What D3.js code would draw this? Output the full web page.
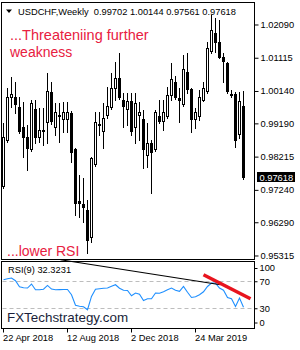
<!DOCTYPE html>
<html>
<head>
<meta charset="utf-8">
<script src="https://cdn.jsdelivr.net/npm/d3@7"></script>
<style>
body { margin: 0; background: #fff; }
svg { display: block; font-family: "Liberation Sans", Arial, sans-serif; }
</style>
</head>
<body>
<div id="chart"></div>
<script>

// weekly candles USDCHF
var opens = [0.97339,0.98688,0.99978,0.99949,0.99656,0.99069,0.98805,0.98424,0.99597,0.98776,
  0.99010,0.99216,1.00096,0.99098,0.99392,0.99304,0.99304,0.99480,0.98424,0.96899,
  0.96840,0.96664,0.95872,0.97984,0.99170,0.98952,0.99450,0.99656,1.00242,1.00535,
  0.99890,0.99626,0.99832,0.99069,0.99450,0.99304,0.98277,0.98629,0.98424,0.99392,
  0.99245,0.99392,1.00008,1.00418,0.99920,0.99744,1.00711,1.00184,0.99304,0.99392,
  0.99890,1.00125,1.01298,1.01855,1.01562,1.01122,1.00975,1.00066,1.00037,0.98864,
  0.99702];
var highs = [0.99216,1.00242,1.00565,1.00418,0.99978,0.99832,0.99157,0.99890,0.99890,0.99656,
  0.99656,1.00682,1.00418,0.99802,0.99802,0.99832,0.99832,0.99560,0.98482,0.97690,
  0.97602,0.96957,0.98210,0.99538,0.99538,0.99802,1.00272,1.00682,1.01005,1.01269,
  1.00096,1.00096,1.00096,1.00096,0.99832,0.99597,0.99216,0.98717,0.99597,0.99890,
  0.99890,1.00272,1.00975,1.00594,1.00242,1.01210,1.01269,1.00242,0.99656,1.00184,
  1.00418,1.01591,1.02383,1.02295,1.02237,1.01269,1.01005,1.00184,1.00125,1.00125,
  1.00144];
var lows = [0.97310,0.98660,0.99685,0.99509,0.98922,0.98218,0.97837,0.98400,0.98629,0.98658,
  0.98570,0.98629,0.99190,0.98864,0.98658,0.98952,0.98952,0.98072,0.96517,0.96459,
  0.96312,0.95403,0.95726,0.97960,0.98864,0.98482,0.99362,0.99630,0.99890,0.99920,
  0.99098,0.99157,0.98864,0.98629,0.98717,0.97896,0.97925,0.97162,0.98400,0.99216,
  0.99010,0.99370,0.99890,0.99930,0.99245,0.99720,1.00096,0.98952,0.99069,0.99304,
  0.99870,1.00100,1.01280,1.01298,1.01122,1.00418,1.00096,0.99978,0.98512,0.98776,
  0.97561];
var closes = [0.98776,0.99978,1.00066,0.99744,0.98952,0.98776,0.98482,0.99802,0.98776,0.99010,
  0.98952,1.00125,0.99245,0.99509,0.99450,0.99509,0.99538,0.98336,0.96869,0.96869,
  0.96723,0.95784,0.98189,0.99216,0.99150,0.99333,0.99685,1.00242,1.00535,0.99949,
  0.99685,0.99832,0.98952,0.99802,0.99509,0.98424,0.98629,0.98365,0.99538,0.99245,
  0.99538,1.00008,1.00506,0.99949,0.99861,1.00799,1.00184,0.99304,0.99509,0.99978,
  1.00242,1.01415,1.01943,1.01562,1.01151,1.01005,1.00125,1.00008,0.98717,0.99832,
  0.97618];

// RSI(9)
var rsi = [73.0,74.4,75.5,71.5,62.6,61.1,60.7,66.6,58.1,58.1,
  58.9,64.5,59.2,58.1,58.3,58.5,58.5,50.7,35.2,33.7,
  33.0,28.5,48.2,58.9,59.6,60.4,60.7,63.3,65.6,60.4,
  57.4,57.1,49.3,53.3,51.5,42.3,44.8,44.8,53.3,53.0,
  55.2,58.1,60.7,57.4,55.9,63.0,54.4,46.7,47.8,50.7,
  55.2,63.0,68.1,68.1,60.7,57.4,46.7,44.8,33.4,45.9,
  32.3231];

// trendlines on the RSI pane: [bar index, rsi value]
var rsiTrend = [[14.25, 102.6], [54.25, 65.6]];
var redTrend = [[50, 80.4], [61.75, 44.8]];

var priceTicks = [1.02090, 1.01115, 1.00140, 0.99190, 0.98215, 0.97240, 0.96290, 0.95315];
var rsiTicks = [0, 30, 70, 100];
var dateTicks = [new Date(2018, 3, 22), new Date(2018, 7, 12), new Date(2018, 11, 2), new Date(2019, 2, 24)];

var weeks = d3.timeWeek.range(new Date(2018, 3, 22), d3.timeWeek.offset(new Date(2018, 3, 22), opens.length));

var data = weeks.map(function(d, i) {
  return {date: d, o: opens[i], h: highs[i], l: lows[i], c: closes[i], rsi: rsi[i]};
});

var W = 300, H = 350;
var main = {left: 1.5, right: 254.5, top: 2.5, bottom: 259.5};
var sub = {top: 261.5, bottom: 328.5};

var svg = d3.select("#chart")
  .append("svg")
    .attr("width", W)
    .attr("height", H);

// scales
var x = d3.scaleBand()
  .domain(weeks)
  .range([1.5, 1.5 + 4 * weeks.length])
  .padding(0);
var cx = function(d) { return x(d) + x.bandwidth() / 2; };
var xi = d3.scaleLinear()
  .domain([0, weeks.length - 1])
  .range([cx(weeks[0]), cx(weeks[weeks.length - 1])]);

var y = d3.scaleLinear()
  .domain([0.95227, 1.02735])
  .range([259, 3]);

var yr = d3.scaleLinear()
  .domain([0, 100])
  .range([329, 261.5]);

var snap = function(v) { return Math.round(v - 0.5) + 0.5; };

// panel frames
svg.append("rect")
  .attr("x", main.left).attr("y", main.top)
  .attr("width", main.right - main.left).attr("height", main.bottom - main.top)
  .attr("fill", "none").attr("stroke", "#000");
svg.append("rect")
  .attr("x", main.left).attr("y", sub.top)
  .attr("width", main.right - main.left).attr("height", sub.bottom - sub.top)
  .attr("fill", "none").attr("stroke", "#000");

// price axis
var yAxis = svg.append("g")
  .attr("transform", "translate(" + main.right + ",0)")
  .call(d3.axisRight(y).tickValues(priceTicks).tickFormat(d3.format(".5f")).tickSize(4).tickPadding(2).offset(0));
yAxis.select(".domain").remove();
yAxis.selectAll("text").style("font-size", "9.3px").attr("fill", "#000");

// candles
var candles = svg.append("g");
candles.selectAll("line")
  .data(data)
  .enter()
  .append("line")
    .attr("x1", function(d) { return cx(d.date); })
    .attr("x2", function(d) { return cx(d.date); })
    .attr("y1", function(d) { return Math.round(y(d.h)); })
    .attr("y2", function(d) { return Math.round(y(d.l)) + 1; })
    .attr("stroke", "#000");
candles.selectAll("rect")
  .data(data)
  .enter()
  .append("rect")
    .attr("x", function(d) { return cx(d.date) - 1; })
    .attr("y", function(d) { return snap(y(Math.max(d.o, d.c))); })
    .attr("width", 2)
    .attr("height", function(d) { return Math.max(0, snap(y(Math.min(d.o, d.c))) - snap(y(Math.max(d.o, d.c)))); })
    .attr("fill", function(d) { return d.c >= d.o ? "#fff" : "#000"; })
    .attr("stroke", "#000");

// current price label
var last = data[data.length - 1];
svg.append("rect")
  .attr("x", 257).attr("y", Math.round(y(last.c)) - 5)
  .attr("width", 38).attr("height", 10)
  .attr("fill", "#000");
svg.append("text")
  .attr("x", 259.5).attr("y", Math.round(y(last.c)) + 3.5)
  .style("font-size", "9.3px")
  .attr("fill", "#fff")
  .text(d3.format(".5f")(last.c));

// header
svg.append("path")
  .attr("d", "M6,9.5L12,9.5L9,13Z")
  .attr("fill", "#000");
svg.append("text")
  .attr("x", 18).attr("y", 15)
  .style("font-size", "9.3px")
  .style("white-space", "pre")
  .text("USDCHF,Weekly  " + [last.o, last.h, last.l, last.c].map(d3.format(".5f")).join(" "));

// annotations
svg.append("text")
  .attr("x", 10).attr("y", 40)
  .style("font-size", "14.5px")
  .attr("fill", "#e8203f")
  .text("...Threateniing further");
svg.append("text")
  .attr("x", 10).attr("y", 57)
  .style("font-size", "14px")
  .attr("fill", "#e8203f")
  .text("weakness");
svg.append("text")
  .attr("x", 7).attr("y", 256)
  .style("font-size", "14px")
  .attr("fill", "#e8203f")
  .text("...lower RSI");

// RSI pane
svg.selectAll(".level")
  .data([70, 30])
  .enter()
  .append("line")
    .attr("x1", main.left + 1).attr("x2", main.right - 1)
    .attr("y1", function(d) { return snap(yr(d)); })
    .attr("y2", function(d) { return snap(yr(d)); })
    .attr("stroke", "#bdbdbd")
    .attr("stroke-dasharray", "4,3");

svg.append("path")
  .datum(data)
  .attr("fill", "none")
  .attr("stroke", "#1e8fff")
  .attr("stroke-width", 1.1)
  .attr("d", d3.line()
    .x(function(d) { return cx(d.date); })
    .y(function(d) { return yr(d.rsi); }));

var tline = d3.line()
  .x(function(d) { return xi(d[0]); })
  .y(function(d) { return yr(d[1]); });

svg.append("path")
  .datum(rsiTrend)
  .attr("fill", "none")
  .attr("stroke", "#000")
  .attr("stroke-width", 1.2)
  .attr("d", tline);

svg.append("path")
  .datum(redTrend)
  .attr("fill", "none")
  .attr("stroke", "#e8141e")
  .attr("stroke-width", 3.5)
  .attr("d", tline);

svg.append("text")
  .attr("x", 8).attr("y", 273)
  .style("font-size", "9.3px")
  .text("RSI(9) " + d3.format(".4f")(last.rsi));

svg.append("text")
  .attr("x", 7).attr("y", 322)
  .style("font-size", "13.4px")
  .attr("fill", "#1a1f3a")
  .text("FXTechstrategy.com");

var rAxis = svg.append("g")
  .attr("transform", "translate(" + main.right + ",0)")
  .call(d3.axisRight(yr).tickValues(rsiTicks).tickSize(3).tickPadding(2).offset(0));
rAxis.select(".domain").remove();
rAxis.selectAll("text").style("font-size", "9.3px").attr("fill", "#000");
// end labels sit inside the pane like the terminal does
rAxis.selectAll(".tick")
  .attr("transform", function(d) {
    var p = yr(d);
    if (d === 100) p += 7;
    if (d === 0) p -= 6;
    return "translate(0," + p + ")";
  });

// time axis
var xAxis = svg.append("g")
  .attr("transform", "translate(0," + sub.bottom + ")")
  .call(d3.axisBottom(x).tickValues(dateTicks).tickFormat(d3.timeFormat("%-d %b %Y")).tickSize(4).tickPadding(2).offset(0));
xAxis.select(".domain").remove();
xAxis.selectAll("text")
  .style("font-size", "9.3px")
  .attr("fill", "#000")
  .attr("text-anchor", "start")
  .attr("x", -0.5);

</script>
</body>
</html>
